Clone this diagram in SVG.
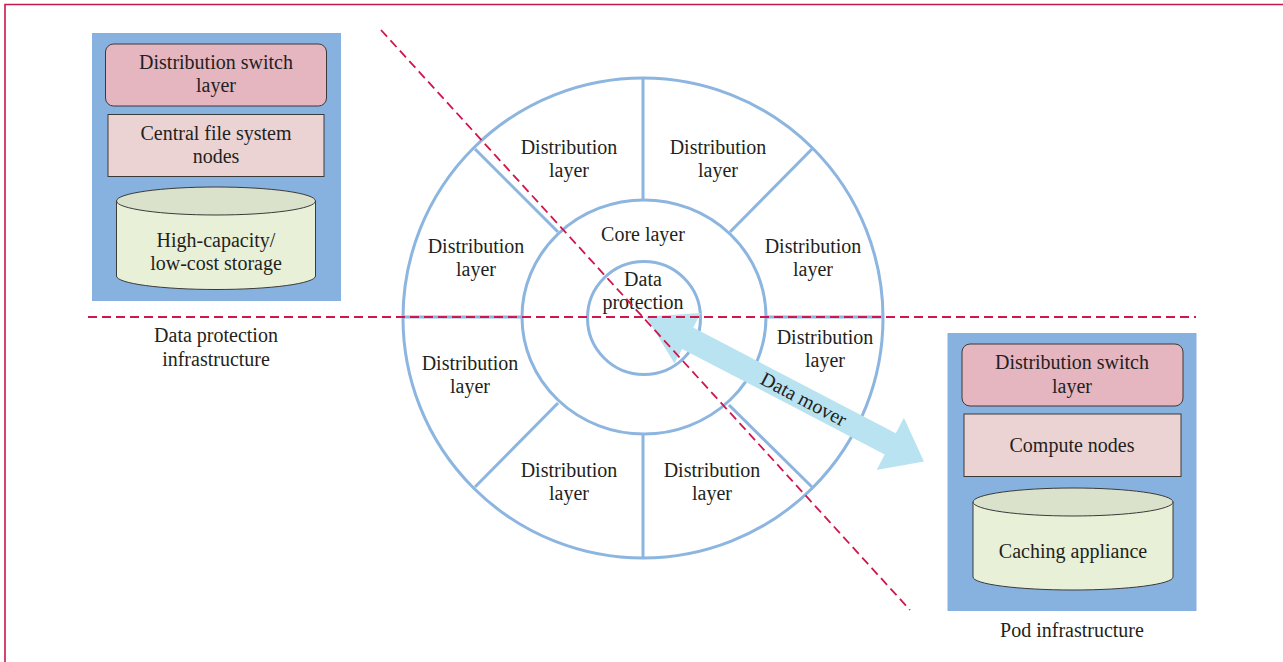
<svg xmlns="http://www.w3.org/2000/svg" width="1283" height="662" viewBox="0 0 1283 662">
<style>
text{font-family:"Liberation Serif","Times New Roman",serif;font-size:20px;fill:#231f20;text-anchor:middle}
.panel{fill:#87b1de}
.sw{fill:#e5b5c0;stroke:#3a3a3a;stroke-width:1}
.nd{fill:#ebd3d3;stroke:#3a3a3a;stroke-width:1}
.cylb{fill:#e8f0d8;stroke:#3a3a3a;stroke-width:1}
.cylt{fill:#dbe2cc;stroke:#3a3a3a;stroke-width:1}
.ring{fill:none;stroke:#8cb5e0;stroke-width:3}
.dash{fill:none;stroke:#d0164c;stroke-width:1.8;stroke-dasharray:9 5}
.frame{fill:none;stroke:#c8184a;stroke-width:1.6}
</style>
<rect width="1283" height="662" fill="#ffffff"/>
<path class="frame" d="M5,662 V4.5 H1283"/>

<g id="data-protection-infrastructure">
<rect class="panel" x="92" y="33" width="249" height="268"/>
<g id="dp-switch"><rect class="sw" x="105.5" y="44" width="221" height="62" rx="8"/><text x="216" y="69">Distribution switch</text><text x="216" y="92">layer</text></g>
<g id="dp-nodes"><rect class="nd" x="108" y="114.5" width="216" height="62"/><text x="216" y="140">Central file system</text><text x="216" y="163">nodes</text></g>
<g id="dp-storage"><path class="cylb" d="M116.5,201 V276 A99.5,13.5 0 0 0 315.5,276 V201 Z"/><ellipse class="cylt" cx="216" cy="201" rx="99.5" ry="14"/><text x="216" y="247">High-capacity/</text><text x="216" y="270">low-cost storage</text></g>
<text x="216" y="342">Data protection</text><text x="216" y="366">infrastructure</text>
</g>

<g id="pod-infrastructure">
<rect class="panel" x="947.5" y="333" width="249" height="278"/>
<g id="pod-switch"><rect class="sw" x="962" y="344" width="221" height="62" rx="8"/><text x="1072" y="369">Distribution switch</text><text x="1072" y="393">layer</text></g>
<g id="pod-compute"><rect class="nd" x="964" y="414" width="217" height="62.5"/><text x="1072" y="452">Compute nodes</text></g>
<g id="pod-cache"><path class="cylb" d="M973,502 V577 A100,13 0 0 0 1173,577 V502 Z"/><ellipse class="cylt" cx="1073" cy="502" rx="100" ry="14"/><text x="1073" y="558">Caching appliance</text></g>
<text x="1072" y="637">Pod infrastructure</text>
</g>

<g id="ring">
<circle class="ring" cx="643" cy="318" r="240"/>
<ellipse class="ring" cx="644" cy="317" rx="122" ry="117"/>
<circle class="ring" cx="644" cy="318" r="56.5"/>
<path class="ring" d="M643,78 V200 M643,434 V558 M403,317 H522 M766,317 H883 M475,149 L558,232 M812,149 L730,232 M475,487 L558,403 M812,487 L729,405"/>
</g>

<g id="seg-top-left"><text x="569" y="154">Distribution</text><text x="569" y="177">layer</text></g>
<g id="seg-top-right"><text x="718" y="154">Distribution</text><text x="718" y="177">layer</text></g>
<g id="seg-left-upper"><text x="476" y="253">Distribution</text><text x="476" y="276">layer</text></g>
<g id="seg-right-upper"><text x="813" y="253">Distribution</text><text x="813" y="276">layer</text></g>
<g id="seg-right-lower"><text x="825" y="344">Distribution</text><text x="825" y="367">layer</text></g>
<g id="seg-left-lower"><text x="470" y="370">Distribution</text><text x="470" y="393">layer</text></g>
<g id="seg-bottom-left"><text x="569" y="477">Distribution</text><text x="569" y="500">layer</text></g>
<g id="seg-bottom-right"><text x="712" y="477">Distribution</text><text x="712" y="500">layer</text></g>
<g id="core"><text x="643" y="241">Core layer</text></g>
<g id="data-protection"><text x="643" y="286">Data</text><text x="643" y="309">protection</text></g>

<g id="connectors">
<g id="data-mover" transform="translate(646,316.5) rotate(27.55)">
<polygon fill="#b9e3f1" points="0,0 47,-28.5 47,-12 275.5,-12 275.5,-29.5 313.5,0 275.5,29.5 275.5,12 47,12 47,28.5"/>
<text x="178" y="7">Data mover</text>
</g>
<line class="dash" x1="88" y1="317" x2="1196" y2="317"/>
<line class="dash" x1="381" y1="30" x2="910" y2="610"/>
</g>
</svg>
